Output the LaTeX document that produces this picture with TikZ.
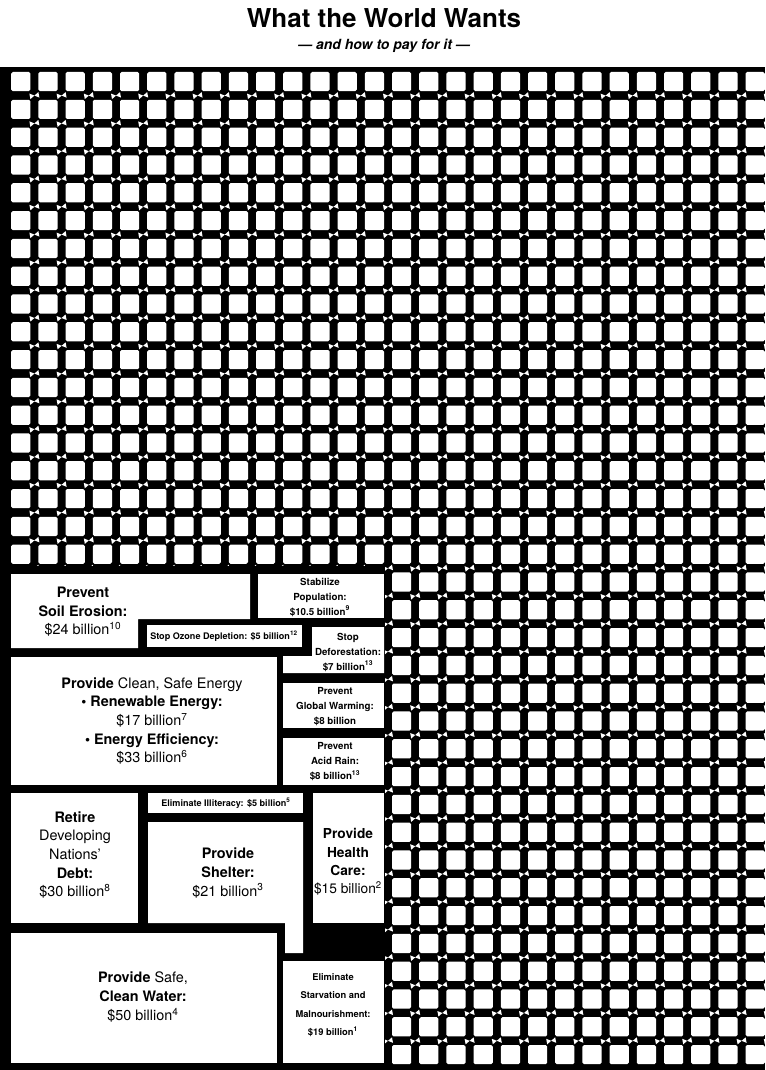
\documentclass[tikz,border=0pt]{standalone}
\usepackage{fontspec}
\setmainfont{TeX Gyre Heros}
\begin{document}
\begin{tikzpicture}[x=0.75pt,y=-0.75pt,
  box/.style={fill=white},
  cell/.style={fill=white,rounded corners=1.2pt},
  spark/.style={fill=white},
  big/.style={align=center,font=\fontsize{10.8}{13.9}\selectfont,inner sep=0pt},
  mid/.style={align=center,font=\fontsize{10.3}{13.7}\selectfont,inner sep=0pt},
  small/.style={align=center,font=\bfseries\fontsize{7.3}{11.25}\selectfont,inner sep=0pt},
  tiny/.style={align=center,font=\bfseries\fontsize{6.8}{8}\selectfont,inner sep=0pt},
]
\useasboundingbox (0,0) rectangle (765,1070);
\fill[white] (0,0) rectangle (765,1070);
% title
\node[font=\bfseries\fontsize{19.5}{22}\selectfont] (title) at (384,18) {What the World Wants};
\node[font=\bfseries\itshape\fontsize{10.5}{12}\selectfont] (subtitle) at (384,46) {\textemdash{} and how to pay for it \textemdash};
% grid
\fill[black] (0,67) rectangle (765,1070);
\foreach \j in {0,...,35}{
  \foreach \k in {0,...,27}{
    \fill[cell] ({11.2+27.2*\k},{72+27.8*\j}) rectangle ++(19.2,19.2);
  }
}
\foreach \j in {0,...,34}{
  \foreach \k in {0,...,27}{
    \fill[spark,shift={({11.2+27.2*\k+23.2},{72+27.8*\j+23.6})}]
      (-5,-2) -- (0,0) -- (-4,3.5) -- cycle (5,2) -- (0,0) -- (4,-3.5) -- cycle;
  }
}
% box area
\fill[black] (0,566) rectangle (384.5,1070);
% boxes
\fill[box] (11,574) -- (250,574) -- (250,619) -- (138,619) -- (138,648) -- (11,648) -- cycle;
\fill[box] (258,574) rectangle (384,618);
\fill[box] (147,625) rectangle (302,647);
\fill[box] (312,627) -- (384,627) -- (384,673) -- (283,673) -- (283,656) -- (312,656) -- cycle;
\fill[box] (283,683) rectangle (384,728);
\fill[box] (283,738) rectangle (384,785);
\fill[box] (11,657) rectangle (277,785);
\fill[box] (11,793) rectangle (138,923);
\fill[box] (148,793) rectangle (303,813);
\fill[box] (148,822) -- (303,822) -- (303,953) -- (285,953) -- (285,923) -- (148,923) -- cycle;
\fill[box] (313,793) rectangle (384,923);
\fill[box] (11,933) rectangle (277,1063);
\fill[box] (283,961) rectangle (384,1063);
% texts
\node[big] (soil) at (83,612) {\textbf{Prevent}\\\textbf{Soil Erosion:}\\\$24 billion\textsuperscript{10}};
\node[small] (pop) at (320,597) {Stabilize\\Population:\\\$10.5 billion\textsuperscript{9}};
\node[tiny] (ozone) at (224,636) {Stop Ozone Depletion: \$5 billion\textsuperscript{12}};
\node[small] (defor) at (348,652) {Stop\\Deforestation:\\\$7 billion\textsuperscript{13}};
\node[small] (warm) at (335,707) {Prevent\\Global Warming:\\\$8 billion};
\node[small] (acid) at (335,762) {Prevent\\Acid Rain:\\\$8 billion\textsuperscript{13}};
\node[big] (energy) at (152,721) {\textbf{Provide} Clean, Safe Energy\\\textbf{\textbullet\ Renewable Energy:}\\\$17 billion\textsuperscript{7}\\\textbf{\textbullet\ Energy Efficiency:}\\\$33 billion\textsuperscript{6}};
\node[tiny] (illit) at (226,803) {Eliminate Illiteracy: \$5 billion\textsuperscript{5}};
\node[big] (debt) at (75,855) {\textbf{Retire}\\Developing\\Nations'\\\textbf{Debt:}\\\$30 billion\textsuperscript{8}};
\node[big] (shelter) at (228,873) {\textbf{Provide}\\\textbf{Shelter:}\\\$21 billion\textsuperscript{3}};
\node[mid] (health) at (348,862) {\textbf{Provide}\\\textbf{Health}\\\textbf{Care:}\\\$15 billion\textsuperscript{2}};
\node[big,font=\fontsize{10.8}{14.6}\selectfont] (water) at (143,997) {\textbf{Provide} Safe,\\\textbf{Clean Water:}\\\$50 billion\textsuperscript{4}};
\node[small,font=\bfseries\fontsize{7}{13.9}\selectfont] (starv) at (333,1005) {Eliminate\\Starvation and\\Malnourishment:\\\$19 billion\textsuperscript{1}};
\end{tikzpicture}
\end{document}
